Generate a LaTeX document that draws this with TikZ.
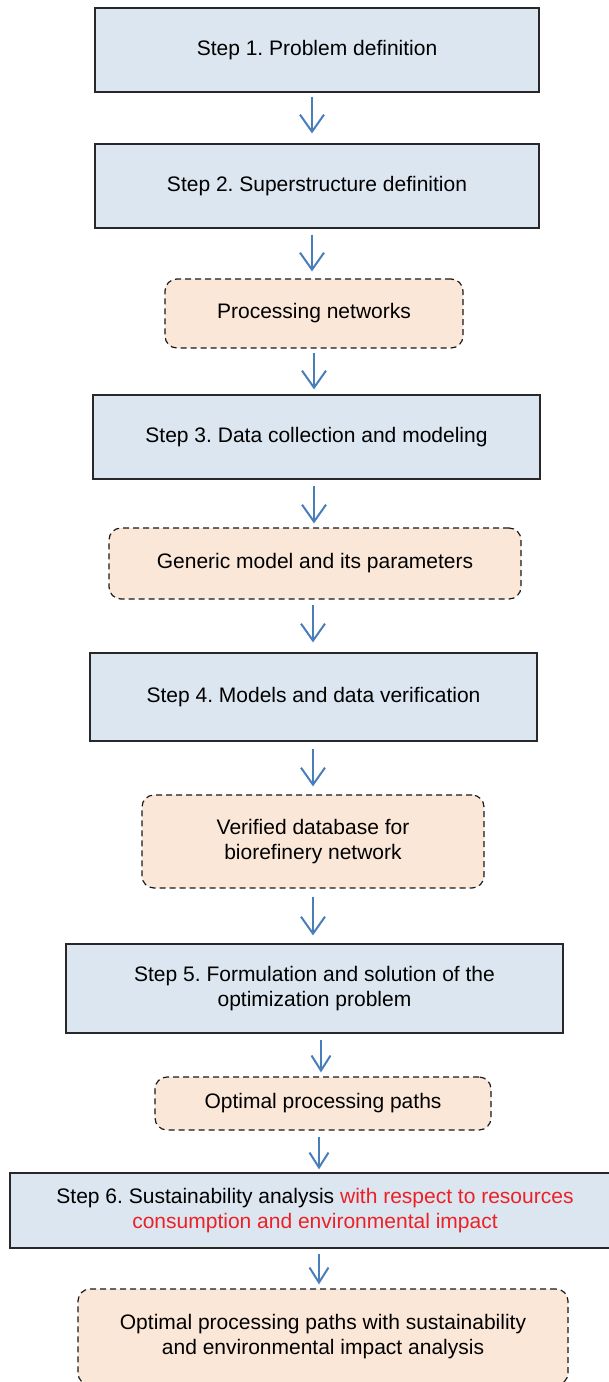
\documentclass[tikz,border=0pt]{standalone}
\usepackage{fontspec}
\setmainfont{Liberation Sans}
\usetikzlibrary{arrows.meta}
\frenchspacing

\definecolor{stepfill}{RGB}{220,230,240}
\definecolor{stepline}{RGB}{40,40,40}
\definecolor{outfill}{RGB}{251,231,216}
\definecolor{flowblue}{RGB}{74,126,187}
\definecolor{hilite}{RGB}{236,32,38}

\tikzset{
  stepbox/.style={draw=stepline, line width=1.2pt, fill=stepfill,
    align=center, inner sep=0pt, font=\fontsize{21}{25}\selectfont},
  outbox/.style={draw=black!90, line width=1.2pt, dash pattern=on 6pt off 4pt,
    rounded corners=12pt, fill=outfill, align=center, inner sep=0pt,
    font=\fontsize{21}{25}\selectfont},
  flow/.style={draw=flowblue, line width=2pt,
    -{Straight Barb[length=17pt,width=24pt,line width=2pt]}},
  flowsmall/.style={draw=flowblue, line width=2pt,
    -{Straight Barb[length=15pt,width=19pt,line width=2pt]}},
}

\begin{document}
\begin{tikzpicture}[x=1pt,y=-1pt]
\useasboundingbox (0,0) rectangle (609,1382);
\clip (0,0) rectangle (609,1382);

% process steps and their outcomes
\node[stepbox, minimum width=444pt, minimum height=84pt] (s1) at (317,50)
  {Step 1. Problem definition};
\node[stepbox, minimum width=444pt, minimum height=84pt] (s2) at (317,186)
  {Step 2. Superstructure definition};
\node[outbox, minimum width=298pt, minimum height=69pt] (o1) at (314,313.5)
  {Processing networks};
\node[stepbox, minimum width=447pt, minimum height=84pt] (s3) at (316.5,437)
  {Step 3. Data collection and modeling};
\node[outbox, minimum width=412pt, minimum height=71pt] (o2) at (315,563.5)
  {Generic model and its parameters};
\node[stepbox, minimum width=447pt, minimum height=88pt] (s4) at (313.5,697)
  {Step 4. Models and data verification};
\node[outbox, minimum width=342pt, minimum height=93pt] (o3) at (313,841.5)
  {Verified database for\\biorefinery network};
\node[stepbox, minimum width=497pt, minimum height=89pt] (s5) at (314.5,988.5)
  {Step 5. Formulation and solution of the\\optimization problem};
\node[outbox, minimum width=336pt, minimum height=53pt] (o4) at (323,1103.5)
  {Optimal processing paths};
\node[stepbox, minimum width=610pt, minimum height=75pt] (s6) at (315,1210.5)
  {Step 6. Sustainability analysis \textcolor{hilite}{with respect to resources}\\
   \textcolor{hilite}{consumption and environmental impact}};
\node[outbox, minimum width=490pt, minimum height=96pt] (o5) at (323,1337)
  {Optimal processing paths with sustainability\\and environmental impact analysis};

% arrow columns
\coordinate (xa) at (312,0);
\coordinate (xb) at (314,0);
\coordinate (xc) at (313,0);
\coordinate (xd) at (321,0);
\coordinate (xe) at (319,0);

% connectors
\draw[flow, shorten <=4pt, shorten >=10pt] (s1.south -| xa) -- (s2.north -| xa);
\draw[flow, shorten <=6pt, shorten >=7pt] (s2.south -| xa) -- (o1.north -| xa);
\draw[flow, shorten <=4pt, shorten >=5pt] (o1.south -| xb) -- (s3.north -| xb);
\draw[flow, shorten <=6pt, shorten >=4pt] (s3.south -| xb) -- (o2.north -| xb);
\draw[flow, shorten <=5pt, shorten >=10pt] (o2.south -| xc) -- (s4.north -| xc);
\draw[flow, shorten <=7pt, shorten >=8pt] (s4.south -| xc) -- (o3.north -| xc);
\draw[flow, shorten <=8pt, shorten >=8pt] (o3.south -| xc) -- (s5.north -| xc);
\draw[flowsmall, shorten <=6pt, shorten >=4pt] (s5.south -| xd) -- (o4.north -| xd);
\draw[flowsmall, shorten <=6pt, shorten >=3pt] (o4.south -| xe) -- (s6.north -| xe);
\draw[flowsmall, shorten <=5pt, shorten >=4pt] (s6.south -| xe) -- (o5.north -| xe);
\end{tikzpicture}
\end{document}
